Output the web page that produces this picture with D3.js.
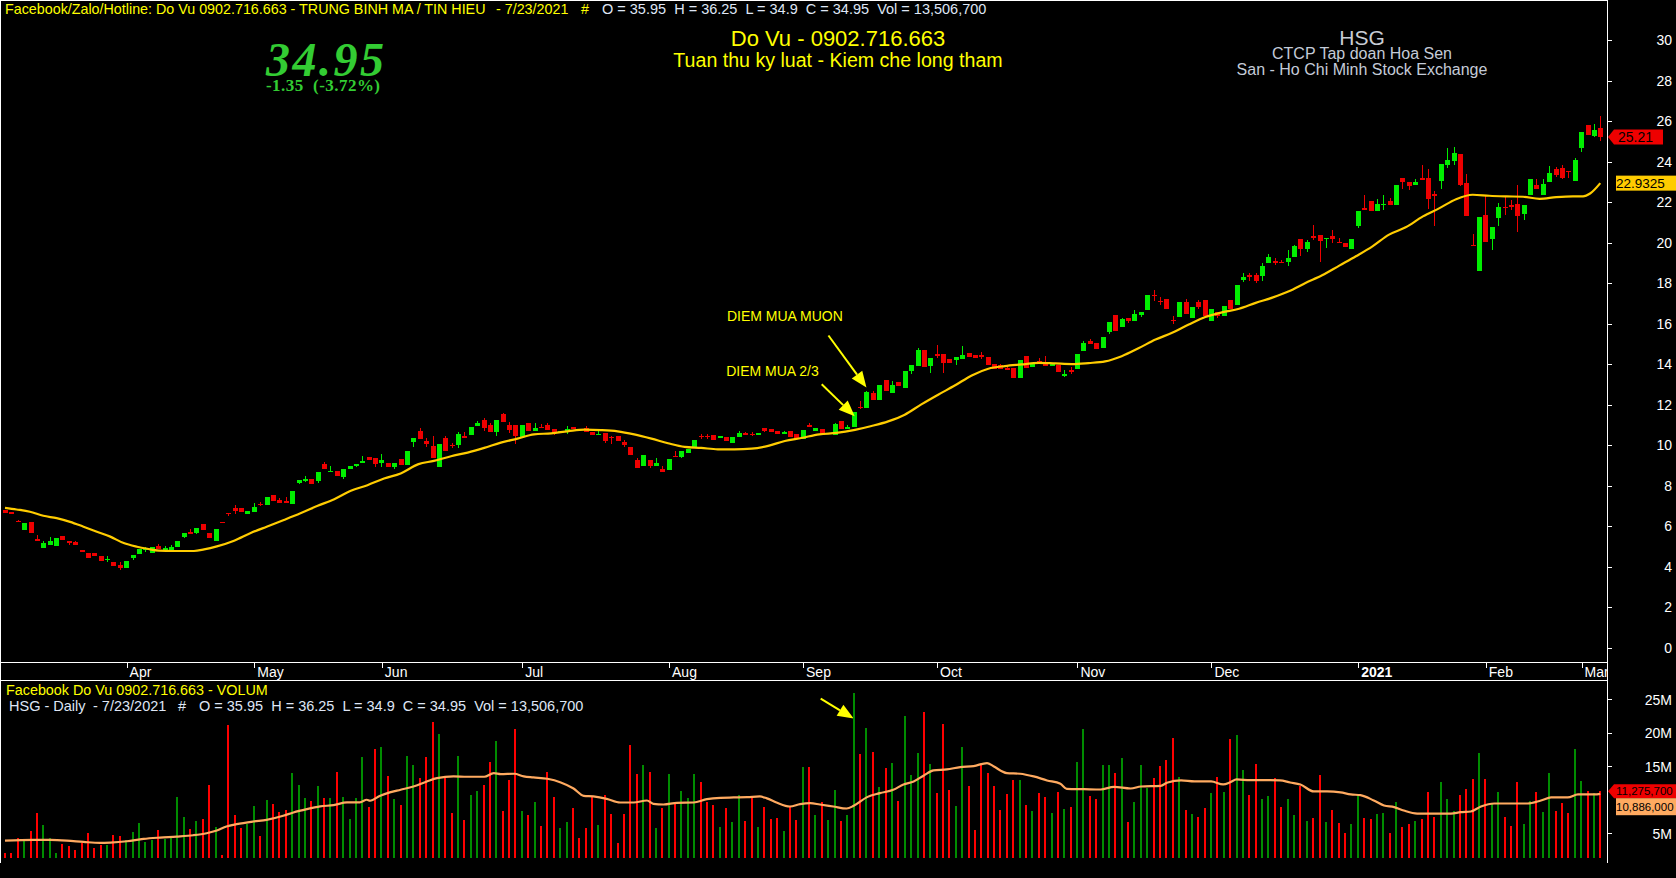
<!DOCTYPE html>
<html><head><meta charset="utf-8">
<script src="https://cdn.jsdelivr.net/npm/d3@7"></script>
<style>html,body{margin:0;padding:0;background:#000;overflow:hidden}</style>
</head><body>
<svg id="c" width="1676" height="878"></svg>
<script>
// ---------- DATA ----------
// daily candles, HSG, 2020-03-04 .. 2021-03-03 : [open, high, low, close]
const ohlc = [
[6.79,6.79,6.66,6.66],[6.69,6.69,6.61,6.61],[6.26,6.30,6.20,6.20],[5.82,6.17,5.82,6.15],[6.20,6.20,5.67,5.67],
[5.38,5.56,5.28,5.28],[4.93,5.26,4.93,5.16],[5.08,5.46,5.08,5.26],[5.03,5.39,5.03,5.39],[5.51,5.51,5.33,5.33],
[5.26,5.26,5.08,5.18],[5.20,5.26,5.08,5.08],[4.82,4.82,4.74,4.74],[4.69,4.69,4.44,4.44],[4.67,4.67,4.50,4.54],
[4.52,4.52,4.29,4.29],[4.36,4.52,4.24,4.39],[4.23,4.23,4.05,4.05],[4.10,4.23,3.85,3.93],[3.95,4.28,3.95,4.28],
[4.42,4.57,4.34,4.57],[4.64,4.89,4.64,4.89],[4.80,4.95,4.70,4.87],[4.69,4.97,4.69,4.97],[5.03,5.11,4.87,4.87],
[4.82,5.03,4.82,4.93],[4.83,5.08,4.83,4.98],[4.97,5.26,4.97,5.26],[5.48,5.64,5.41,5.64],[5.70,5.85,5.62,5.62],
[5.67,5.90,5.60,5.90],[6.08,6.08,5.80,5.80],[5.66,5.66,5.43,5.43],[5.26,5.85,5.26,5.85],[6.22,6.22,6.18,6.18],
[6.67,6.67,6.51,6.62],[6.89,7.04,6.59,6.76],[6.89,6.89,6.71,6.71],[6.61,6.74,6.61,6.74],[6.71,7.15,6.71,6.94],
[7.10,7.17,6.97,7.04],[7.04,7.43,7.04,7.43],[7.53,7.53,7.25,7.25],[7.30,7.38,7.15,7.15],[7.23,7.43,7.20,7.20],
[7.08,7.73,7.08,7.73],[8.12,8.28,8.07,8.28],[8.22,8.45,8.17,8.33],[8.32,8.32,8.07,8.07],[8.23,8.66,8.14,8.66],
[9.06,9.16,8.81,8.81],[8.68,8.96,8.68,8.73],[8.71,8.71,8.45,8.45],[8.42,8.84,8.33,8.84],[8.83,8.96,8.83,8.96],
[8.96,9.06,8.91,9.06],[9.10,9.45,9.10,9.22],[9.42,9.42,9.25,9.25],[9.34,9.34,8.93,9.07],[9.10,9.55,8.93,9.25],
[9.10,9.10,8.93,8.93],[8.93,9.10,8.84,9.10],[9.30,9.30,9.02,9.02],[9.02,9.71,9.02,9.71],[10.16,10.34,9.91,10.34],
[10.70,10.83,10.29,10.29],[10.20,10.35,9.90,10.04],[9.96,10.43,9.35,9.35],[8.92,10.04,8.92,10.04],[10.33,10.43,9.69,9.69],
[10.02,10.12,9.87,10.00],[10.00,10.65,9.84,10.53],[10.45,10.63,10.35,10.35],[10.48,10.88,10.48,10.88],[10.94,11.19,10.94,11.07],
[11.22,11.34,10.70,10.84],[10.99,11.07,10.63,10.63],[10.65,11.22,10.45,11.22],[11.53,11.58,11.14,11.14],[10.99,11.14,10.61,10.74],
[10.97,10.97,10.05,10.43],[10.40,10.99,10.40,10.99],[11.07,11.07,10.70,10.70],[10.70,11.07,10.70,10.83],[10.91,11.02,10.84,10.84],
[10.97,11.07,10.74,10.74],[10.78,10.78,10.51,10.58],[10.61,10.68,10.61,10.68],[10.65,10.93,10.56,10.78],[10.89,10.89,10.79,10.79],
[10.81,10.81,10.78,10.78],[10.84,10.93,10.65,10.65],[10.66,10.66,10.48,10.48],[10.51,10.74,10.51,10.56],[10.60,10.60,10.12,10.20],
[10.40,10.45,10.07,10.37],[10.43,10.43,10.20,10.20],[10.17,10.25,9.91,9.99],[9.91,9.91,9.50,9.50],[9.25,9.35,8.87,8.87],
[8.97,9.50,8.97,9.50],[9.25,9.25,8.87,8.95],[8.97,9.35,8.97,9.10],[8.81,8.97,8.67,8.67],[8.76,9.30,8.76,9.30],
[9.48,9.73,9.44,9.44],[9.41,9.73,9.35,9.73],[9.63,9.79,9.63,9.79],[9.84,10.24,9.84,10.24],[10.45,10.53,10.28,10.43],
[10.45,10.53,10.28,10.43],[10.48,10.48,10.25,10.25],[10.37,10.45,10.37,10.45],[10.38,10.38,10.20,10.20],[10.10,10.38,10.10,10.38],
[10.42,10.71,10.42,10.58],[10.60,10.66,10.51,10.51],[10.56,10.63,10.45,10.53],[10.50,10.61,10.50,10.61],[10.86,10.86,10.65,10.71],
[10.81,10.81,10.65,10.65],[10.68,10.68,10.55,10.55],[10.55,10.70,10.55,10.65],[10.71,10.71,10.40,10.40],[10.53,10.53,10.30,10.30],
[10.30,10.76,10.30,10.76],[10.99,11.07,10.91,10.91],[10.68,10.83,10.68,10.83],[10.81,10.81,10.50,10.50],[10.53,10.61,10.53,10.61],
[10.50,11.09,10.50,11.04],[11.17,11.17,10.78,10.78],[10.78,10.99,10.78,10.89],[10.89,11.62,10.89,11.62],[11.88,12.18,11.80,11.86],
[11.81,12.67,11.81,12.62],[12.55,12.67,12.21,12.21],[12.22,12.95,12.22,12.95],[13.19,13.19,12.67,12.67],[12.55,13.14,12.55,12.96],
[13.09,13.09,12.90,12.90],[12.82,13.64,12.82,13.64],[13.64,13.93,13.50,13.93],[13.88,14.77,13.88,14.67],[14.67,14.67,13.85,13.85],
[13.88,14.29,13.55,14.29],[14.52,14.95,14.28,14.38],[14.52,14.52,13.55,14.03],[14.24,14.24,14.03,14.03],[14.18,14.36,13.97,14.36],
[14.23,14.90,14.23,14.43],[14.57,14.57,14.33,14.33],[14.43,14.43,14.28,14.28],[14.43,14.60,14.23,14.41],[14.34,14.34,13.93,13.93],
[14.01,14.01,13.74,13.74],[13.97,14.01,13.77,13.77],[13.80,13.92,13.70,13.70],[13.79,13.79,13.29,13.29],[13.29,14.21,13.29,14.21],
[14.39,14.39,13.82,13.82],[13.87,14.06,13.87,14.06],[14.15,14.29,13.98,13.98],[14.06,14.38,13.90,13.90],[13.88,14.00,13.88,14.00],
[13.93,13.93,13.60,13.60],[13.41,13.69,13.36,13.50],[13.70,13.87,13.52,13.68],[13.75,14.50,13.75,14.50],[14.62,15.15,14.62,15.05],
[15.15,15.25,14.98,14.98],[15.03,15.03,14.74,14.74],[14.77,15.36,14.77,15.36],[15.58,16.10,15.48,16.10],[16.40,16.40,15.62,15.62],
[15.81,16.27,15.81,16.20],[16.28,16.28,16.02,16.15],[16.12,16.68,16.12,16.45],[16.43,16.56,16.33,16.56],[16.69,17.40,16.69,17.40],
[17.42,17.65,17.10,17.38],[17.13,17.32,16.90,17.10],[17.19,17.19,16.71,16.71],[16.18,16.36,15.99,16.16],[16.32,17.04,16.32,17.04],
[17.04,17.19,16.45,16.45],[16.28,16.84,16.28,16.84],[17.04,17.14,16.74,16.84],[17.14,17.14,16.38,16.38],[16.12,16.74,16.12,16.74],
[16.58,16.58,16.28,16.36],[16.36,16.87,16.36,16.87],[17.14,17.14,16.71,16.71],[16.91,17.88,16.91,17.88],[18.17,18.48,18.04,18.32],
[18.38,18.50,18.09,18.34],[18.41,18.51,17.99,18.09],[18.33,18.97,18.12,18.86],[19.01,19.45,19.01,19.30],[19.07,19.24,18.87,19.00],
[19.04,19.15,19.00,19.00],[19.02,19.65,18.86,19.25],[19.27,19.90,19.27,19.81],[20.17,20.17,19.35,19.66],[19.66,20.14,19.52,20.03],
[20.30,20.88,20.11,20.22],[20.39,20.39,19.06,20.06],[20.17,20.24,19.71,20.24],[20.34,20.63,19.98,20.16],[20.04,20.24,19.96,19.96],
[19.99,19.99,19.76,19.76],[19.66,20.19,19.66,20.19],[20.80,21.57,20.70,21.57],[21.70,22.36,21.62,21.64],[22.06,22.06,21.54,21.54],
[21.54,22.16,21.54,21.91],[21.88,22.36,21.59,21.92],[22.06,22.21,21.86,21.86],[21.86,22.85,21.86,22.85],[23.20,23.20,22.64,22.97],
[23.00,23.00,22.60,22.77],[22.82,23.15,22.82,23.00],[23.18,23.84,23.14,23.14],[23.20,23.64,21.64,22.16],[22.39,22.55,20.80,22.38],
[23.06,23.89,22.62,23.89],[23.84,24.67,23.66,24.08],[24.05,24.72,23.84,24.43],[24.38,24.38,22.77,22.85],[22.95,23.39,21.29,21.29],
[19.90,20.44,19.86,19.87],[18.58,21.27,18.58,21.27],[21.37,22.33,20.01,20.01],[20.16,20.78,19.61,20.78],[21.19,21.95,20.80,21.77],
[21.77,22.23,21.37,21.74],[21.85,22.11,21.62,21.83],[21.91,22.85,20.50,21.32],[21.42,21.85,21.12,21.85],[22.36,23.15,22.36,23.15],
[22.85,23.15,22.62,22.62],[22.36,23.15,22.36,22.90],[23.00,23.79,23.00,23.44],[23.64,23.74,23.23,23.34],[23.69,23.84,23.15,23.20],
[23.54,23.54,23.20,23.46],[23.05,24.18,23.05,24.08],[24.67,25.46,24.48,25.46],[25.81,25.81,25.33,25.33],[25.28,25.86,25.22,25.56],
[25.66,26.25,25.02,25.21]
];
// daily volume, millions of shares
const volumeM = [
2.05,2.05,4.3,4.15,5.35,8.04,6.24,4.3,2.05,3.4,3.15,2.5,3.55,5.05,2.85,3.25,3.25,4.75,4.65,4.0,
5.2,6.55,3.7,4.0,5.5,4.15,4.6,10.44,7.44,5.65,6.84,7.14,12.23,5.95,1.8,21.21,7.74,5.8,6.39,9.09,
4.6,9.99,9.39,8.19,8.49,14.03,12.23,10.29,9.84,12.08,10.29,10.29,14.18,10.44,7.14,10.29,16.42,8.94,17.62,17.92,
13.58,10.14,9.24,16.57,15.22,13.28,16.42,21.66,19.87,13.58,8.04,16.57,7.0,10.74,11.33,12.23,15.67,18.82,8.34,12.98,
20.62,8.34,7.74,9.69,6.09,14.18,10.44,5.8,6.69,8.79,4.3,5.8,10.44,6.24,10.74,7.89,3.55,7.89,18.22,13.88,
15.22,14.18,5.8,8.79,13.88,9.54,11.33,10.29,13.88,12.68,9.69,9.24,5.95,8.79,6.69,10.74,6.84,10.29,5.95,8.94,
7.14,7.29,5.35,8.94,7.0,14.93,14.93,7.74,9.69,7.0,11.48,6.84,7.74,26.0,16.87,20.76,17.17,11.93,14.78,15.53,
9.84,22.56,13.73,17.02,23.16,15.38,11.03,21.36,11.48,9.09,17.92,12.08,5.5,15.22,14.03,12.08,8.49,10.89,12.98,12.98,
9.24,8.34,11.03,10.44,8.04,11.18,8.64,8.94,15.67,20.62,10.59,10.14,15.22,15.22,14.03,16.27,6.69,9.69,15.22,11.78,
13.28,15.08,15.97,19.27,13.43,8.49,7.89,7.44,8.79,10.94,13.33,11.19,19.02,19.72,14.48,10.74,15.38,10.14,10.59,13.28,
8.94,10.14,7.74,12.08,6.84,7.29,13.73,6.69,8.49,6.54,5.05,6.39,10.49,7.29,7.14,7.89,8.04,5.05,9.69,5.95,
6.39,6.84,7.14,11.19,7.44,12.68,10.14,8.34,10.74,11.64,13.13,17.02,13.13,9.29,11.19,7.44,6.09,12.68,6.39,9.84,
11.19,8.19,14.03,8.34,9.54,8.04,17.62,12.83,11.34,10.99,11.2757
];
// price moving average, read at bar positions [bar number, value]
const maIdx = [1,2.8,4.9,7,9.1,11.2,13.3,15.4,17.5,19.6,21.7,23.3,25.1,27.4,30.6,32.2,34.2,36.9,39.5,42.1,44.7,47.3,50,52.6,55.2,57.8,60.4,63,65.8,68.2,70.9,73.5,76.1,78.7,81.3,83.9,86.6,89.2,91.8,94.4,97,99.6,102.3,104.9,107.5,110.1,112.7,115.3,118,120.6,123.2,125.8,128.6,131.3,134.2,136.8,139.4,142,144.6,147.3,149.9,152.5,155.1,157.7,160.3,163,165.6,168.2,170.8,173.4,176,178.7,181.3,183.9,186.5,189.1,191.7,194.4,197,199.6,202.2,204.8,207.4,210.1,212.7,215.3,217.9,220.5,223.2,225.8,228.4,231,233.6,236.3,238.9,241.5,244.1,246.7,248.3,249.4,251];
const maVal = [6.90,6.82,6.71,6.51,6.39,6.21,5.97,5.72,5.48,5.16,4.98,4.88,4.79,4.77,4.77,4.85,5.00,5.28,5.66,5.98,6.30,6.63,7.00,7.33,7.74,8.02,8.35,8.60,9.06,9.22,9.45,9.63,9.86,10.12,10.32,10.53,10.58,10.68,10.76,10.74,10.68,10.53,10.32,10.09,9.91,9.86,9.79,9.79,9.82,9.96,10.20,10.35,10.53,10.60,10.75,10.94,11.17,11.50,12.01,12.50,12.95,13.44,13.77,13.90,13.98,14.06,14.03,14.00,14.05,14.13,14.39,14.79,15.21,15.54,15.95,16.32,16.55,16.73,17.02,17.28,17.59,18.00,18.38,18.86,19.32,19.81,20.39,20.75,21.29,21.70,22.14,22.36,22.31,22.28,22.26,22.16,22.24,22.28,22.28,22.42,22.9325];
// volume moving average (millions), read at bar positions
const vmaIdx = [1,5.4,8.1,10.7,13.3,15.9,17.5,20.1,22.7,25.3,27.9,30.5,32.6,34.2,35.7,37.3,39.9,42,44.6,46.2,48.3,50.4,52.5,54.6,56.6,57.7,58.2,59.8,61.3,63,65,67.1,68.7,71.3,73.4,76.1,77.6,78.7,80.8,82.3,83.8,86,88.1,90.1,91.7,93.2,95.3,97.4,99.5,101.6,102.6,104.2,106.3,108.9,111,113.1,115.2,117.3,119.3,120.4,121.9,124,125.6,127.2,128.7,130.8,132.9,134,136.1,138.1,140.2,141.8,143.4,145,146.5,148.6,150.7,152.8,154.9,155.9,158,160.1,162.2,164.3,166.4,167.4,170.1,172.7,174.8,177.4,179,182.1,183.2,185.3,187.4,190,191.9,193,194,196.1,198.7,200.8,202.4,204,206.1,208.2,210.3,211.9,213.4,215.5,217.1,218.7,220.2,222.3,224.9,227.6,229.1,230.7,232.3,234.4,236.5,239.6,241.7,243.3,245.9,247.5,250.1,251];
const vmaVal = [3.9,4.0,4.0,3.9,3.7,3.55,3.6,3.8,4.15,4.35,4.5,4.7,5.0,5.4,6.0,6.35,6.75,7.0,7.6,8.1,8.6,9.0,9.2,9.6,9.6,10.0,9.85,10.6,11.1,11.5,11.98,12.73,13.23,13.48,13.43,13.43,13.98,13.83,13.88,13.48,13.33,13.13,12.58,11.68,10.58,10.49,10.14,9.59,9.59,9.89,9.39,9.29,9.54,9.59,10.09,10.29,10.34,10.38,10.49,10.2,9.59,8.99,9.34,9.49,9.29,8.99,8.69,9.09,10.39,10.98,11.48,12.28,12.73,13.63,14.38,14.53,14.88,15.03,15.48,15.0,13.98,13.88,13.48,12.88,12.38,11.63,11.58,11.53,11.93,11.68,11.98,12.08,12.58,12.88,12.73,12.73,12.28,12.6,13.03,12.93,12.93,12.9,12.58,12.28,11.24,11.24,11.09,10.79,10.69,9.89,9.14,8.89,8.39,7.94,7.94,7.94,8.14,8.24,8.99,9.44,9.44,9.44,9.89,10.34,10.34,10.79,10.79,10.886];
// month labels and the bar number of each month's first session
const monthLabels = ["Apr","May","Jun","Jul","Aug","Sep","Oct","Nov","Dec","2021","Feb","Mar"];
const monthFirstBar = [21,41,61,83,106,127,148,170,191,214,234,249];
const priceTicks = [0,2,4,6,8,10,12,14,16,18,20,22,24,26,28,30];
// the 10M label is hidden behind the value tags in the reference
const volumeTicks = [5,15,20,25];
const volumeTickLabels = ["5M","15M","20M","25M"];
const lastPrice = 25.21, lastMA = 22.9325, lastVol = 11.2757, lastVolMA = 10.886;

// ---------- LAYOUT ----------
const W = 1676, H = 878, AX = 1607;
const FONT = "'Liberation Sans', Arial, sans-serif";
const svg = d3.select('#c').style('font-family', FONT);
svg.append('rect').attr('width', W).attr('height', H).attr('fill', '#000');

const x = d3.scaleLinear().domain([1, ohlc.length]).range([5, 1600.3]);
const yP = d3.scaleLinear().domain([0, 30]).range([647.6, 40]);
const yV = d3.scaleLinear().domain([0, 25]).range([866.7, 699.3]);

const defs = svg.append('defs');
defs.append('clipPath').attr('id', 'clipP').append('rect').attr('x', 1).attr('y', 1).attr('width', AX - 1).attr('height', 661);
defs.append('clipPath').attr('id', 'clipV').append('rect').attr('x', 1).attr('y', 681).attr('width', AX - 1).attr('height', 177);
defs.append('clipPath').attr('id', 'clipM').append('rect').attr('x', 1).attr('y', 663).attr('width', AX - 1).attr('height', 17);

const GREEN = '#00ee00', RED = '#ee0000', VGREEN = '#008c00', VRED = '#ff0000';
const bars = ohlc.map((d, k) => ({ i: k + 1, o: d[0], h: d[1], l: d[2], c: d[3], v: volumeM[k], up: d[3] >= d[0] }));

// ---------- HEADER TEXTS ----------
const hdr = svg.append('text').attr('y', 14).attr('font-size', 14.3).style('white-space', 'pre');
hdr.append('tspan').attr('x', 5).attr('fill', '#ffff00').text('Facebook/Zalo/Hotline: Do Vu 0902.716.663 - TRUNG BINH MA / TIN HIEU');
hdr.append('tspan').attr('x', 496).attr('fill', '#ffff00').text('- 7/23/2021');
hdr.append('tspan').attr('x', 581).attr('fill', '#ffff00').text('#');
hdr.append('tspan').attr('x', 602).attr('fill', '#dfe6f5').attr('font-size', 14.5).text('O = 35.95  H = 36.25  L = 34.9  C = 34.95  Vol = 13,506,700');

svg.append('text').attr('x', 266).attr('y', 76).attr('fill', '#33cc33')
  .attr('font-family', "'Liberation Serif', 'Times New Roman', serif").attr('font-weight', 'bold').attr('font-style', 'italic')
  .attr('font-size', 48).attr('textLength', 118).text('34.95');
svg.append('text').attr('x', 266).attr('y', 90.5).attr('fill', '#33cc33').style('white-space', 'pre')
  .attr('font-family', "'Liberation Serif', 'Times New Roman', serif").attr('font-weight', 'bold')
  .attr('font-size', 17).attr('textLength', 114).text('-1.35  (-3.72%)');

svg.append('text').attr('x', 838).attr('y', 46).attr('text-anchor', 'middle').attr('fill', '#ffff00').attr('font-size', 22).text('Do Vu - 0902.716.663');
svg.append('text').attr('x', 838).attr('y', 66.5).attr('text-anchor', 'middle').attr('fill', '#ffff00').attr('font-size', 19.6).text('Tuan thu ky luat - Kiem che long tham');

svg.append('text').attr('x', 1362).attr('y', 45).attr('text-anchor', 'middle').attr('fill', '#c8ccd4').attr('font-size', 21).text('HSG');
svg.append('text').attr('x', 1362).attr('y', 59).attr('text-anchor', 'middle').attr('fill', '#c4cbd8').attr('font-size', 16).text('CTCP Tap doan Hoa Sen');
svg.append('text').attr('x', 1362).attr('y', 75).attr('text-anchor', 'middle').attr('fill', '#c4cbd8').attr('font-size', 16).text('San - Ho Chi Minh Stock Exchange');

// ---------- PRICE PANEL ----------
const gP = svg.append('g').attr('clip-path', 'url(#clipP)').attr('shape-rendering', 'crispEdges');
const cx = d => Math.round(x(d.i));
gP.selectAll('line.wick').data(bars).join('line').attr('class', 'wick')
  .attr('x1', d => cx(d) + 0.5).attr('x2', d => cx(d) + 0.5)
  .attr('y1', d => yP(d.h)).attr('y2', d => yP(d.l))
  .attr('stroke', d => d.up ? GREEN : RED).attr('stroke-width', 1);
gP.selectAll('rect.body').data(bars).join('rect').attr('class', 'body')
  .attr('x', d => cx(d) - 2).attr('width', 5)
  .attr('y', d => yP(Math.max(d.o, d.c)))
  .attr('height', d => Math.max(1.5, Math.abs(yP(d.o) - yP(d.c))))
  .attr('fill', d => d.up ? GREEN : RED);

const maPts = maIdx.map((k, j) => [k, maVal[j]]);
svg.append('path').attr('clip-path', 'url(#clipP)').datum(maPts)
  .attr('d', d3.line().x(d => x(d[0])).y(d => yP(d[1])).curve(d3.curveMonotoneX))
  .attr('fill', 'none').attr('stroke', '#ffcc00').attr('stroke-width', 2.2);

// annotations
function arrow(g, x1, y1, x2, y2, color) {
  const a = Math.atan2(y2 - y1, x2 - x1), L = 16, hw = 6.5;
  const bx = x2 - L * Math.cos(a), by = y2 - L * Math.sin(a);
  g.append('line').attr('x1', x1).attr('y1', y1).attr('x2', bx).attr('y2', by).attr('stroke', color).attr('stroke-width', 2);
  g.append('path').attr('d', `M${x2},${y2}L${bx + hw * Math.sin(a)},${by - hw * Math.cos(a)}L${bx - hw * Math.sin(a)},${by + hw * Math.cos(a)}Z`).attr('fill', color);
}
const gA = svg.append('g');
const b134 = bars[133], b136 = bars[135];
{
  const tx = x(b136.i), ty = yP(b136.h) - 3.5;
  arrow(gA, tx - 38, ty - 52, tx, ty, '#ffff00');
  gA.append('text').attr('x', tx - 139.5).attr('y', ty - 66.5).attr('fill', '#ffff00').attr('font-size', 14).text('DIEM MUA MUON');
}
{
  const tx = x(b134.i) + 1, ty = yP(b134.h) + 4;
  arrow(gA, tx - 33, ty - 32, tx, ty, '#ffff00');
  gA.append('text').attr('x', tx - 128.5).attr('y', ty - 40.5).attr('fill', '#ffff00').attr('font-size', 14).text('DIEM MUA 2/3');
}

// ---------- VOLUME PANEL ----------
const gV = svg.append('g').attr('clip-path', 'url(#clipV)').attr('shape-rendering', 'crispEdges');
gV.selectAll('rect.vol').data(bars).join('rect').attr('class', 'vol')
  .attr('x', d => cx(d) - 1).attr('width', 2)
  .attr('y', d => yV(d.v)).attr('height', d => yV(0) - yV(d.v))
  .attr('fill', d => d.up ? VGREEN : VRED);
const vmaPts = vmaIdx.map((k, j) => [k, vmaVal[j]]);
svg.append('path').attr('clip-path', 'url(#clipV)').datum(vmaPts)
  .attr('d', d3.line().x(d => x(d[0])).y(d => yV(d[1])).curve(d3.curveMonotoneX))
  .attr('fill', 'none').attr('stroke', '#ffaa60').attr('stroke-width', 2.2);
{
  const tx = x(b134.i), ty = yV(b134.v) + 26;
  arrow(gA, tx - 33, ty - 20, tx, ty, '#ffff00');
}
svg.append('text').attr('x', 6).attr('y', 695).attr('fill', '#ffff00').attr('font-size', 14.35).text('Facebook Do Vu 0902.716.663 - VOLUM');
const h2 = svg.append('text').attr('y', 711).attr('font-size', 14.5).attr('fill', '#dfe6f5').style('white-space', 'pre');
h2.append('tspan').attr('x', 9).text('HSG - Daily');
h2.append('tspan').attr('x', 93).text('- 7/23/2021');
h2.append('tspan').attr('x', 178).text('#');
h2.append('tspan').attr('x', 199).text('O = 35.95  H = 36.25  L = 34.9  C = 34.95  Vol = 13,506,700');

// ---------- FRAME ----------
const fr = svg.append('g').attr('stroke', '#ffffff').attr('stroke-width', 1).attr('shape-rendering', 'crispEdges');
fr.append('line').attr('x1', 0).attr('x2', AX).attr('y1', 0.5).attr('y2', 0.5);
fr.append('line').attr('x1', 0.5).attr('x2', 0.5).attr('y1', 0).attr('y2', 863);
fr.append('line').attr('x1', 0).attr('x2', AX).attr('y1', 662.5).attr('y2', 662.5);
fr.append('line').attr('x1', 0).attr('x2', AX).attr('y1', 680.5).attr('y2', 680.5);

// month strip
const gM = svg.append('g').attr('clip-path', 'url(#clipM)');
const months = monthLabels.map((m, j) => ({ m, i: monthFirstBar[j] }));
gM.selectAll('line').data(months).join('line')
  .attr('x1', d => Math.round(x(d.i) - 6) + 0.5).attr('x2', d => Math.round(x(d.i) - 6) + 0.5)
  .attr('y1', 663).attr('y2', 668).attr('stroke', '#fff').attr('shape-rendering', 'crispEdges');
gM.selectAll('text').data(months).join('text')
  .attr('x', d => x(d.i) - 3).attr('y', 676.5).attr('fill', '#fff').attr('font-size', 14)
  .attr('font-weight', d => d.m === '2021' ? 'bold' : 'normal').text(d => d.m);

// ---------- RIGHT AXES ----------
const axP = svg.append('g').attr('transform', `translate(${AX},0)`)
  .call(d3.axisRight(yP).tickValues(priceTicks).tickSize(5).tickFormat(d3.format('d')));
const axV = svg.append('g').attr('transform', `translate(${AX},0)`)
  .call(d3.axisRight(yV).tickValues(volumeTicks).tickSize(5).tickFormat((d, j) => volumeTickLabels[j]));
[axP, axV].forEach(a => {
  a.select('.domain').remove();
  a.selectAll('line').attr('stroke', '#fff').attr('shape-rendering', 'crispEdges');
  a.selectAll('text').attr('fill', '#fff').attr('font-size', 14).attr('font-family', FONT)
    .attr('text-anchor', 'end').attr('x', 65).attr('dy', '0.35em');
});
svg.append('line').attr('x1', AX + 0.5).attr('x2', AX + 0.5).attr('y1', 0).attr('y2', 863)
  .attr('stroke', '#fff').attr('shape-rendering', 'crispEdges');

// value tags
function tag(cy, h, fill, label, pointer, x0, fs) {
  const g = svg.append('g');
  if (pointer) {
    g.append('path').attr('d', `M${AX + 1},${cy}L${AX + 7},${cy - h / 2}L${W},${cy - h / 2}L${W},${cy + h / 2}L${AX + 7},${cy + h / 2}Z`).attr('fill', fill);
  } else {
    g.append('rect').attr('x', x0).attr('y', cy - h / 2).attr('width', W - x0).attr('height', h).attr('fill', fill);
  }
  g.append('text').attr('x', AX + 9).attr('y', cy).attr('dy', '0.36em').attr('fill', '#000').attr('font-size', fs).text(label);
}
const cP = yP(lastPrice), cMA = yP(lastMA);
{
  const g = svg.append('g');
  g.append('path').attr('d', `M${AX + 1},${cP}L${AX + 7},${cP - 7.5}L${1663},${cP - 7.5}L${1663},${cP + 7.5}L${AX + 7},${cP + 7.5}Z`).attr('fill', '#ee0000');
  g.append('text').attr('x', AX + 11).attr('y', cP).attr('dy', '0.36em').attr('fill', '#000').attr('font-size', 14).text(d3.format('.2f')(lastPrice));
}
tag(cMA, 15, '#ffcc00', String(lastMA), false, AX + 9, 13.5);
const cV = yV(lastVol);
tag(cV, 14, '#ee0000', d3.format(',')(Math.round(lastVol * 1e6)), true, 0, 11.5);
const cVM = Math.max(yV(lastVolMA), cV + 15.5);
tag(cVM, 17, '#ffaa60', d3.format(',')(Math.round(lastVolMA * 1e6)), false, AX + 9, 11.5);
</script>
</body></html>
